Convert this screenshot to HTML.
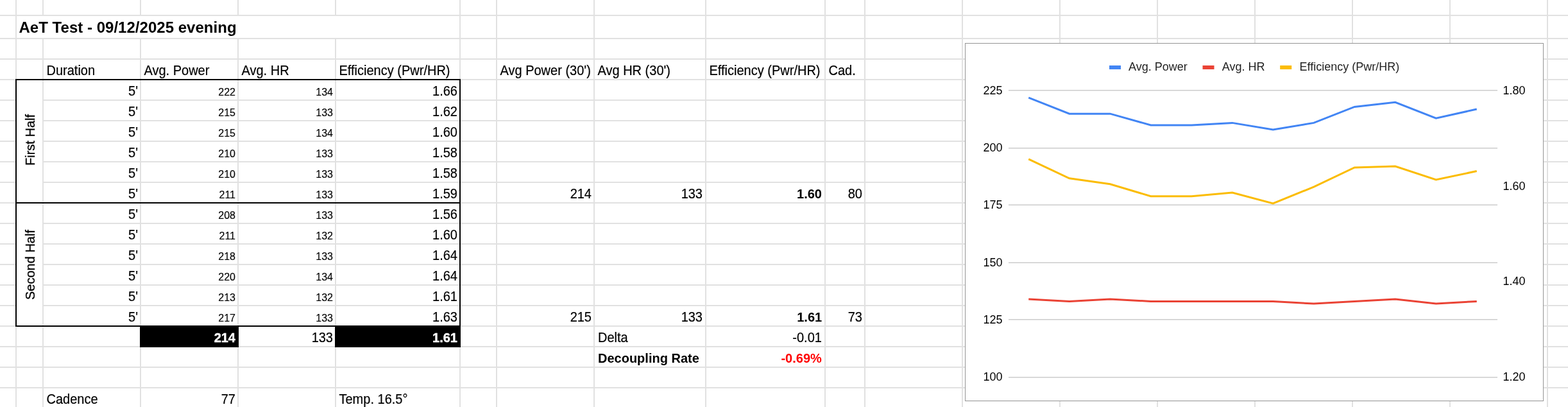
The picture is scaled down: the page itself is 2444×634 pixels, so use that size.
<!DOCTYPE html>
<html lang="en"><head><meta charset="utf-8"><title>AeT Test - 09/12/2025 evening</title>
<style>
html,body{margin:0;padding:0;background:#fff;}
body{width:2444px;height:634px;overflow:hidden;font-family:"Liberation Sans",Arial,sans-serif;color:#000;}
#sheet{position:relative;width:2444px;height:634px;overflow:hidden;background:#fff;}
.v,.h,.w,.k{position:absolute;}
.v{top:0;width:2px;height:634px;background:#e1e1e1;}
.h{left:0;height:2px;width:2444px;background:#e1e1e1;}
.w{background:#fff;}
.k{background:#000;}
.t{position:absolute;white-space:pre;line-height:32px;height:32px;font-size:20px;transform-origin:0 23px;transform:scaleY(1.06);-webkit-text-stroke:0.2px #000;}
.r{text-align:right;}
.s{font-size:16px;transform:translateY(2px);-webkit-text-stroke:0.15px #000;}
.b{font-weight:bold;-webkit-text-stroke:0;transform:scaleY(1.01);}
.wh{color:#fff;-webkit-text-stroke:0.4px #fff;transform:scaleY(1.04);}
.red{color:#ff0000;}
.rot{position:absolute;white-space:pre;font-size:20px;line-height:20px;transform-origin:0 0;transform:rotate(-90deg) scaleY(1.02);-webkit-text-stroke:0.3px #000;}
#chart{position:absolute;left:1504px;top:67px;width:900px;height:556px;border:1px solid #949494;background:#fff;}
#chart svg{position:absolute;left:0;top:0;}

</style></head><body><div id="sheet">
<div class="v" style="left:24px"></div>
<div class="v" style="left:66px"></div>
<div class="v" style="left:218px"></div>
<div class="v" style="left:370px"></div>
<div class="v" style="left:522px"></div>
<div class="v" style="left:716px"></div>
<div class="v" style="left:773px"></div>
<div class="v" style="left:925px"></div>
<div class="v" style="left:1099px"></div>
<div class="v" style="left:1285px"></div>
<div class="v" style="left:1347px"></div>
<div class="v" style="left:1499px"></div>
<div class="v" style="left:1651px"></div>
<div class="v" style="left:1803px"></div>
<div class="v" style="left:1955px"></div>
<div class="v" style="left:2107px"></div>
<div class="v" style="left:2259px"></div>
<div class="v" style="left:2411px"></div>
<div class="h" style="top:23px"></div>
<div class="h" style="top:59px"></div>
<div class="h" style="top:91px"></div>
<div class="h" style="top:123px"></div>
<div class="h" style="top:155px"></div>
<div class="h" style="top:187px"></div>
<div class="h" style="top:219px"></div>
<div class="h" style="top:251px"></div>
<div class="h" style="top:283px"></div>
<div class="h" style="top:315px"></div>
<div class="h" style="top:347px"></div>
<div class="h" style="top:379px"></div>
<div class="h" style="top:411px"></div>
<div class="h" style="top:443px"></div>
<div class="h" style="top:475px"></div>
<div class="h" style="top:507px"></div>
<div class="h" style="top:539px"></div>
<div class="h" style="top:571px"></div>
<div class="h" style="top:603px"></div>
<div class="w" style="left:26px;top:25px;width:690px;height:34px"></div>
<div class="w" style="left:26px;top:125px;width:40px;height:190px"></div>
<div class="w" style="left:26px;top:317px;width:40px;height:190px"></div>
<div class="k" style="left:24px;top:123px;width:694px;height:2px"></div>
<div class="k" style="left:24px;top:315px;width:694px;height:2px"></div>
<div class="k" style="left:24px;top:507px;width:694px;height:2px"></div>
<div class="k" style="left:24px;top:123px;width:2px;height:386px"></div>
<div class="k" style="left:716px;top:123px;width:2px;height:386px"></div>
<div class="k" style="left:218px;top:507px;width:154px;height:34px"></div>
<div class="k" style="left:522px;top:507px;width:196px;height:34px"></div>
<div class="t b" style="left:29.5px;top:25px;font-size:24px;line-height:36px;height:36px;transform:none;letter-spacing:0.025px">AeT Test - 09/12/2025 evening</div>
<div class="t " style="left:72.5px;top:94px">Duration</div>
<div class="t " style="left:224.5px;top:94px">Avg. Power</div>
<div class="t " style="left:376.5px;top:94px">Avg. HR</div>
<div class="t " style="left:528.5px;top:94px">Efficiency (Pwr/HR)</div>
<div class="t " style="left:779.5px;top:94px">Avg Power (30')</div>
<div class="t " style="left:931.5px;top:94px">Avg HR (30')</div>
<div class="t " style="left:1105.5px;top:94px">Efficiency (Pwr/HR)</div>
<div class="t " style="left:1291.5px;top:94px">Cad.</div>
<div class="t r " style="left:-85px;width:300px;top:126px">5'</div>
<div class="t r s" style="left:67px;width:300px;top:126px">222</div>
<div class="t r s" style="left:219px;width:300px;top:126px">134</div>
<div class="t r " style="left:413px;width:300px;top:126px">1.66</div>
<div class="t r " style="left:-85px;width:300px;top:158px">5'</div>
<div class="t r s" style="left:67px;width:300px;top:158px">215</div>
<div class="t r s" style="left:219px;width:300px;top:158px">133</div>
<div class="t r " style="left:413px;width:300px;top:158px">1.62</div>
<div class="t r " style="left:-85px;width:300px;top:190px">5'</div>
<div class="t r s" style="left:67px;width:300px;top:190px">215</div>
<div class="t r s" style="left:219px;width:300px;top:190px">134</div>
<div class="t r " style="left:413px;width:300px;top:190px">1.60</div>
<div class="t r " style="left:-85px;width:300px;top:222px">5'</div>
<div class="t r s" style="left:67px;width:300px;top:222px">210</div>
<div class="t r s" style="left:219px;width:300px;top:222px">133</div>
<div class="t r " style="left:413px;width:300px;top:222px">1.58</div>
<div class="t r " style="left:-85px;width:300px;top:254px">5'</div>
<div class="t r s" style="left:67px;width:300px;top:254px">210</div>
<div class="t r s" style="left:219px;width:300px;top:254px">133</div>
<div class="t r " style="left:413px;width:300px;top:254px">1.58</div>
<div class="t r " style="left:-85px;width:300px;top:286px">5'</div>
<div class="t r s" style="left:67px;width:300px;top:286px">211</div>
<div class="t r s" style="left:219px;width:300px;top:286px">133</div>
<div class="t r " style="left:413px;width:300px;top:286px">1.59</div>
<div class="t r " style="left:-85px;width:300px;top:318px">5'</div>
<div class="t r s" style="left:67px;width:300px;top:318px">208</div>
<div class="t r s" style="left:219px;width:300px;top:318px">133</div>
<div class="t r " style="left:413px;width:300px;top:318px">1.56</div>
<div class="t r " style="left:-85px;width:300px;top:350px">5'</div>
<div class="t r s" style="left:67px;width:300px;top:350px">211</div>
<div class="t r s" style="left:219px;width:300px;top:350px">132</div>
<div class="t r " style="left:413px;width:300px;top:350px">1.60</div>
<div class="t r " style="left:-85px;width:300px;top:382px">5'</div>
<div class="t r s" style="left:67px;width:300px;top:382px">218</div>
<div class="t r s" style="left:219px;width:300px;top:382px">133</div>
<div class="t r " style="left:413px;width:300px;top:382px">1.64</div>
<div class="t r " style="left:-85px;width:300px;top:414px">5'</div>
<div class="t r s" style="left:67px;width:300px;top:414px">220</div>
<div class="t r s" style="left:219px;width:300px;top:414px">134</div>
<div class="t r " style="left:413px;width:300px;top:414px">1.64</div>
<div class="t r " style="left:-85px;width:300px;top:446px">5'</div>
<div class="t r s" style="left:67px;width:300px;top:446px">213</div>
<div class="t r s" style="left:219px;width:300px;top:446px">132</div>
<div class="t r " style="left:413px;width:300px;top:446px">1.61</div>
<div class="t r " style="left:-85px;width:300px;top:478px">5'</div>
<div class="t r s" style="left:67px;width:300px;top:478px">217</div>
<div class="t r s" style="left:219px;width:300px;top:478px">133</div>
<div class="t r " style="left:413px;width:300px;top:478px">1.63</div>
<div class="t r " style="left:622px;width:300px;top:286px">214</div>
<div class="t r " style="left:795.0px;width:300px;top:286px">133</div>
<div class="t r b" style="left:981.0px;width:300px;top:286px">1.60</div>
<div class="t r " style="left:1044px;width:300px;top:286px">80</div>
<div class="t r " style="left:622px;width:300px;top:478px">215</div>
<div class="t r " style="left:795.0px;width:300px;top:478px">133</div>
<div class="t r b" style="left:981.2px;width:300px;top:478px">1.61</div>
<div class="t r " style="left:1044px;width:300px;top:478px">73</div>
<div class="t r b wh" style="left:67px;width:300px;top:510px">214</div>
<div class="t r " style="left:219px;width:300px;top:510px">133</div>
<div class="t r b wh" style="left:413px;width:300px;top:510px">1.61</div>
<div class="t " style="left:932px;top:510px">Delta</div>
<div class="t r " style="left:980.9000000000001px;width:300px;top:510px">-0.01</div>
<div class="t b" style="left:932px;top:542px">Decoupling Rate</div>
<div class="t r b red" style="left:980.8px;width:300px;top:542px">-0.69%</div>
<div class="t " style="left:72.5px;top:606px">Cadence</div>
<div class="t r " style="left:67px;width:300px;top:606px">77</div>
<div class="t " style="left:528.5px;top:606px">Temp. 16.5°</div>
<div class="rot" style="left:36.760000000000005px;top:258.0px">First Half</div>
<div class="rot" style="left:36.760000000000005px;top:466.6px">Second Half</div>
<div id="chart">
<svg width="900" height="556" viewBox="0 0 900 556" font-family="Liberation Sans, Arial, sans-serif" font-size="18"><rect x="67" y="72.00" width="762" height="1.5" fill="#cccccc"/><rect x="67" y="162.00" width="762" height="1.5" fill="#cccccc"/><rect x="67" y="250.50" width="762" height="1.5" fill="#cccccc"/><rect x="67" y="340.50" width="762" height="1.5" fill="#cccccc"/><rect x="67" y="429.00" width="762" height="1.5" fill="#cccccc"/><rect x="67" y="519.00" width="762" height="1.5" fill="#cccccc"/><text x="57.6" y="79.05" text-anchor="end" fill="#000">225</text><text x="57.6" y="168.00" text-anchor="end" fill="#000">200</text><text x="57.6" y="257.00" text-anchor="end" fill="#000">175</text><text x="57.6" y="347.00" text-anchor="end" fill="#000">150</text><text x="57.6" y="436.00" text-anchor="end" fill="#000">125</text><text x="57.6" y="525.00" text-anchor="end" fill="#000">100</text><text x="837.6" y="79.05" fill="#000">1.80</text><text x="837.6" y="228.00" fill="#000">1.60</text><text x="837.6" y="376.00" fill="#000">1.40</text><text x="837.6" y="525.00" fill="#000">1.20</text><rect x="224" y="34" width="18" height="6" fill="#4285f4"/><text x="254" y="42.2" fill="#1f1f1f">Avg. Power</text><rect x="369.5" y="34" width="18" height="6" fill="#ea4335"/><text x="399.8" y="42.2" fill="#1f1f1f">Avg. HR</text><rect x="490.2" y="34" width="18" height="6" fill="#fbbc04"/><text x="520.6" y="42.2" fill="#1f1f1f">Efficiency (Pwr/HR)</text><polyline points="98.25,84.17 161.75,109.13 225.25,109.13 288.75,126.95 352.25,126.95 415.75,123.39 479.25,134.08 542.75,123.39 606.25,98.43 669.75,91.30 733.25,116.26 796.75,102.00" fill="none" stroke="#4285f4" stroke-width="3"/><polyline points="98.25,397.89 161.75,401.46 225.25,397.89 288.75,401.46 352.25,401.46 415.75,401.46 479.25,401.46 542.75,405.02 606.25,401.46 669.75,397.89 733.25,405.02 796.75,401.46" fill="none" stroke="#ea4335" stroke-width="3"/><polyline points="98.25,179.91 161.75,209.75 225.25,218.71 288.75,237.67 352.25,237.67 415.75,232.08 479.25,248.84 542.75,223.16 606.25,193.00 669.75,191.00 733.25,211.91 796.75,198.58" fill="none" stroke="#fbbc04" stroke-width="3"/></svg>
</div>
</div></body></html>
